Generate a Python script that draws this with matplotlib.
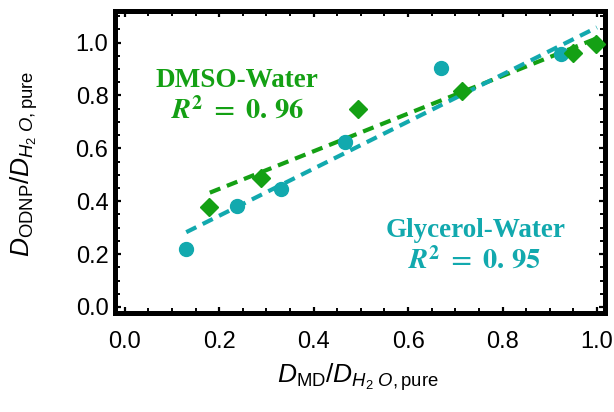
import numpy as np
import matplotlib
matplotlib.use("Agg")
import matplotlib.pyplot as plt
from matplotlib.ticker import MultipleLocator, FormatStrFormatter

# Glycerol-water mixtures: MD vs ODNP diffusivity ratios
gly_md = [0.129, 0.237, 0.330, 0.466, 0.669, 0.924]
gly_odnp = [0.219, 0.383, 0.445, 0.624, 0.902, 0.957]

# DMSO-water mixtures
dmso_md = [0.178, 0.288, 0.493, 0.715, 0.950, 0.999]
dmso_odnp = [0.379, 0.489, 0.749, 0.817, 0.959, 0.994]

# Linear fits (intercept, slope) and the x-span each fit is drawn over
gly_fit = (0.167, 0.89)
gly_fit_span = (0.13, 1.0)
dmso_fit = (0.304, 0.712)
dmso_fit_span = (0.18, 1.0)
gly_r2 = "0.95"
dmso_r2 = "0.96"

tick_values = [0.0, 0.2, 0.4, 0.6, 0.8, 1.0]

GREEN = "#14A014"
CYAN = "#12A9AE"

plt.rcParams["font.family"] = ["Liberation Sans", "DejaVu Sans"]
plt.rcParams["mathtext.fontset"] = "custom"
plt.rcParams["mathtext.rm"] = "Liberation Sans"
plt.rcParams["mathtext.it"] = "Liberation Sans:italic"
plt.rcParams["mathtext.bf"] = "Liberation Sans:bold"

fig = plt.figure(figsize=(6.14, 4.12), dpi=100)
ax = fig.add_axes([0.188, 0.2415, 0.798, 0.733])

dash = (0, (2.7, 1.7))
for (a, b), (x0, x1), col in [(dmso_fit, dmso_fit_span, GREEN),
                              (gly_fit, gly_fit_span, CYAN)]:
    xs = np.array([x0, x1])
    ax.plot(xs, a + b * xs, color=col, lw=3, ls=dash, dash_capstyle="butt",
            zorder=2)

ax.plot(gly_md, gly_odnp, ls="none", marker="o", ms=10, color=CYAN,
        mec=CYAN, zorder=3)
ax.plot(dmso_md, dmso_odnp, ls="none", marker="D", ms=9, color=GREEN,
        mec=GREEN, zorder=3)

ax.set_xlim(-0.02, 1.018)
ax.set_ylim(-0.021, 1.121)
ax.set_xticks(tick_values)
ax.set_yticks(tick_values)
ax.xaxis.set_major_formatter(FormatStrFormatter("%.1f"))
ax.yaxis.set_major_formatter(FormatStrFormatter("%.1f"))
ax.xaxis.set_minor_locator(MultipleLocator(0.05))
ax.yaxis.set_minor_locator(MultipleLocator(0.05))
ax.tick_params(which="both", direction="in", top=True, right=True,
               color="black")
ax.tick_params(which="major", length=4.5, width=1.6, labelsize=17)
ax.tick_params(which="minor", length=3.5, width=1.4)
ax.tick_params(axis="x", which="major", pad=13.5)
ax.tick_params(axis="y", which="major", pad=5)
for sp in ax.spines.values():
    sp.set_linewidth(3.6)

ax.set_xlabel(r"$D_{\mathrm{MD}}/D_{H_2\ O,\mathrm{pure}}$", fontsize=19,
              va="baseline")
ax.xaxis.set_label_coords(0.495, -0.232)
ax.set_ylabel(r"$D_{\mathrm{ODNP}}/D_{H_2\ O,\mathrm{pure}}$", fontsize=19,
              va="baseline")
ax.yaxis.set_label_coords(-0.1745, 0.492)

ax.text(0.237, 0.832, "DMSO-Water", color=GREEN, fontsize=19.5,
        family="Liberation Serif", weight="bold", ha="center", va="baseline")
ax.text(0.239, 0.716,
        r"$\mathbfit{R}^{\mathbf{2}}\mathbf{\ =\ }\mathbf{" + dmso_r2.replace(".", r".\,") + "}$",
        color=GREEN, fontsize=20.5, math_fontfamily="stix", ha="center",
        va="baseline")
ax.text(0.743, 0.265, "Glycerol-Water", color=CYAN, fontsize=19.5,
        family="Liberation Serif", weight="bold", ha="center", va="baseline")
ax.text(0.740, 0.147,
        r"$\mathbfit{R}^{\mathbf{2}}\mathbf{\ =\ }\mathbf{" + gly_r2.replace(".", r".\,") + "}$",
        color=CYAN, fontsize=20.5, math_fontfamily="stix", ha="center",
        va="baseline")

fig.savefig("out.png", dpi=100)
